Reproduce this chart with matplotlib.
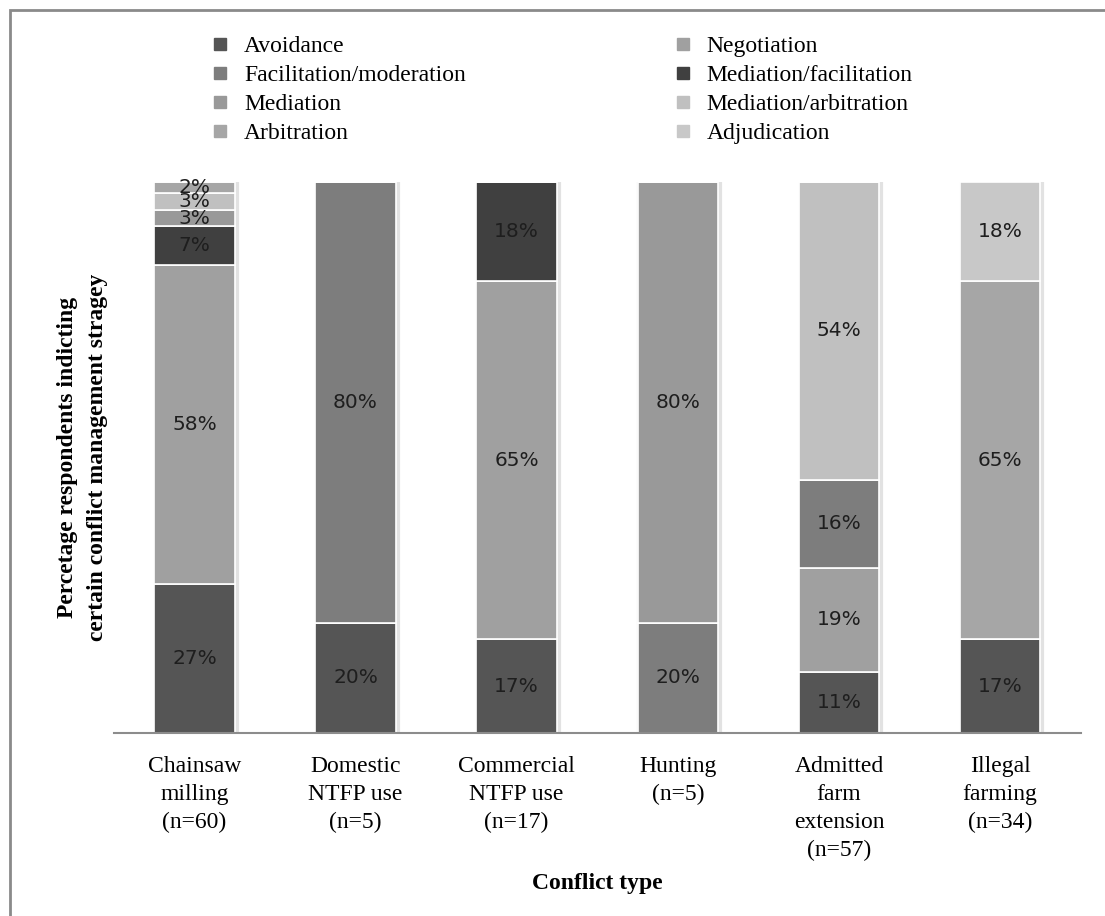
import numpy as np
import matplotlib.pyplot as plt
from matplotlib.lines import Line2D
from matplotlib.patches import Rectangle

categories = ["Chainsaw\nmilling\n(n=60)", "Domestic\nNTFP use\n(n=5)",
              "Commercial\nNTFP use\n(n=17)", "Hunting\n(n=5)",
              "Admitted\nfarm\nextension\n(n=57)", "Illegal\nfarming\n(n=34)"]

strategies = ["Avoidance", "Negotiation", "Facilitation/moderation",
              "Mediation/facilitation", "Mediation", "Mediation/arbitration",
              "Arbitration", "Adjudication"]

avoidance = [27, 20, 17, 0, 11, 17]
negotiation = [58, 0, 65, 0, 19, 0]
facilitation_moderation = [0, 80, 0, 20, 16, 0]
mediation_facilitation = [7, 0, 18, 0, 0, 0]
mediation = [3, 0, 0, 80, 0, 0]
mediation_arbitration = [3, 0, 0, 0, 54, 0]
arbitration = [2, 0, 0, 0, 0, 65]
adjudication = [0, 0, 0, 0, 0, 18]

series = [avoidance, negotiation, facilitation_moderation, mediation_facilitation,
          mediation, mediation_arbitration, arbitration, adjudication]
colors = ['#555555', '#a0a0a0', '#7d7d7d', '#404040',
          '#999999', '#c0c0c0', '#a6a6a6', '#c8c8c8']

serif = ['Liberation Serif', 'DejaVu Serif']

fig = plt.figure(figsize=(11.05, 9.16), dpi=100)
ax = fig.add_axes([0.103, 0.2, 0.875, 0.601])

x = np.arange(len(categories))
width = 0.5

# faint shadow round each bar
ax.bar(x + 0.012, 100, width, color='none', edgecolor='#e2e2e2', linewidth=3, zorder=1)

bottom = np.zeros(len(categories))
for name, vals, col in zip(strategies, series, colors):
	vals = np.array(vals, dtype=float)
	ax.bar(x, vals, width, bottom=bottom, color=col, edgecolor='white',
	       linewidth=1.2, label=name, zorder=2)
	for xi, b, v in zip(x, bottom, vals):
		if v > 0:
			ax.text(xi, b + v / 2, f"{int(v)}%", ha='center', va='center',
			        fontsize=14.5, color='#1e1e1e', family='DejaVu Sans', zorder=3)
	bottom += vals

ax.set_xlim(-0.5, 5.5)
ax.set_ylim(0, 100)
ax.set_yticks([])
ax.set_xticks(x)
ax.set_xticklabels(categories, family=serif, fontsize=17, linespacing=1.42)
ax.tick_params(axis='x', length=0, pad=17)
for s in ['left', 'right', 'top']:
	ax.spines[s].set_visible(False)
ax.spines['bottom'].set_color('#8c8c8c')
ax.spines['bottom'].set_linewidth(1.5)

ax.set_ylabel("Percetage respondents indicting\ncertain conflict management stragey",
              family=serif, fontsize=17, fontweight='bold', labelpad=4, linespacing=1.55)

fig.text(597 / 1105, 1 - 884 / 916, "Conflict type", family=serif, fontsize=17,
         fontweight='bold', ha='center', va='center')

# legend, filled row by row as in the original
order = [0, 2, 4, 6, 1, 3, 5, 7]
handles = [Line2D([], [], marker='s', linestyle='none', markersize=8,
                  color=colors[i]) for i in order]
labels = [strategies[i] for i in order]
fig.legend(handles, labels, loc='upper left', bbox_to_anchor=(0.193, 0.961),
           ncol=2, frameon=False, prop={'family': serif, 'size': 17},
           handlelength=0.6, handletextpad=0.7, columnspacing=8.9,
           labelspacing=0.31, borderpad=0, borderaxespad=0)

# outer frame
fig.patches.append(Rectangle((10 / 1105, -0.01), 1.05, 1 - 10 / 916 + 0.01,
                             transform=fig.transFigure, fill=False,
                             edgecolor='#8a8a8a', linewidth=2))

plt.savefig('out.png', dpi=100)
